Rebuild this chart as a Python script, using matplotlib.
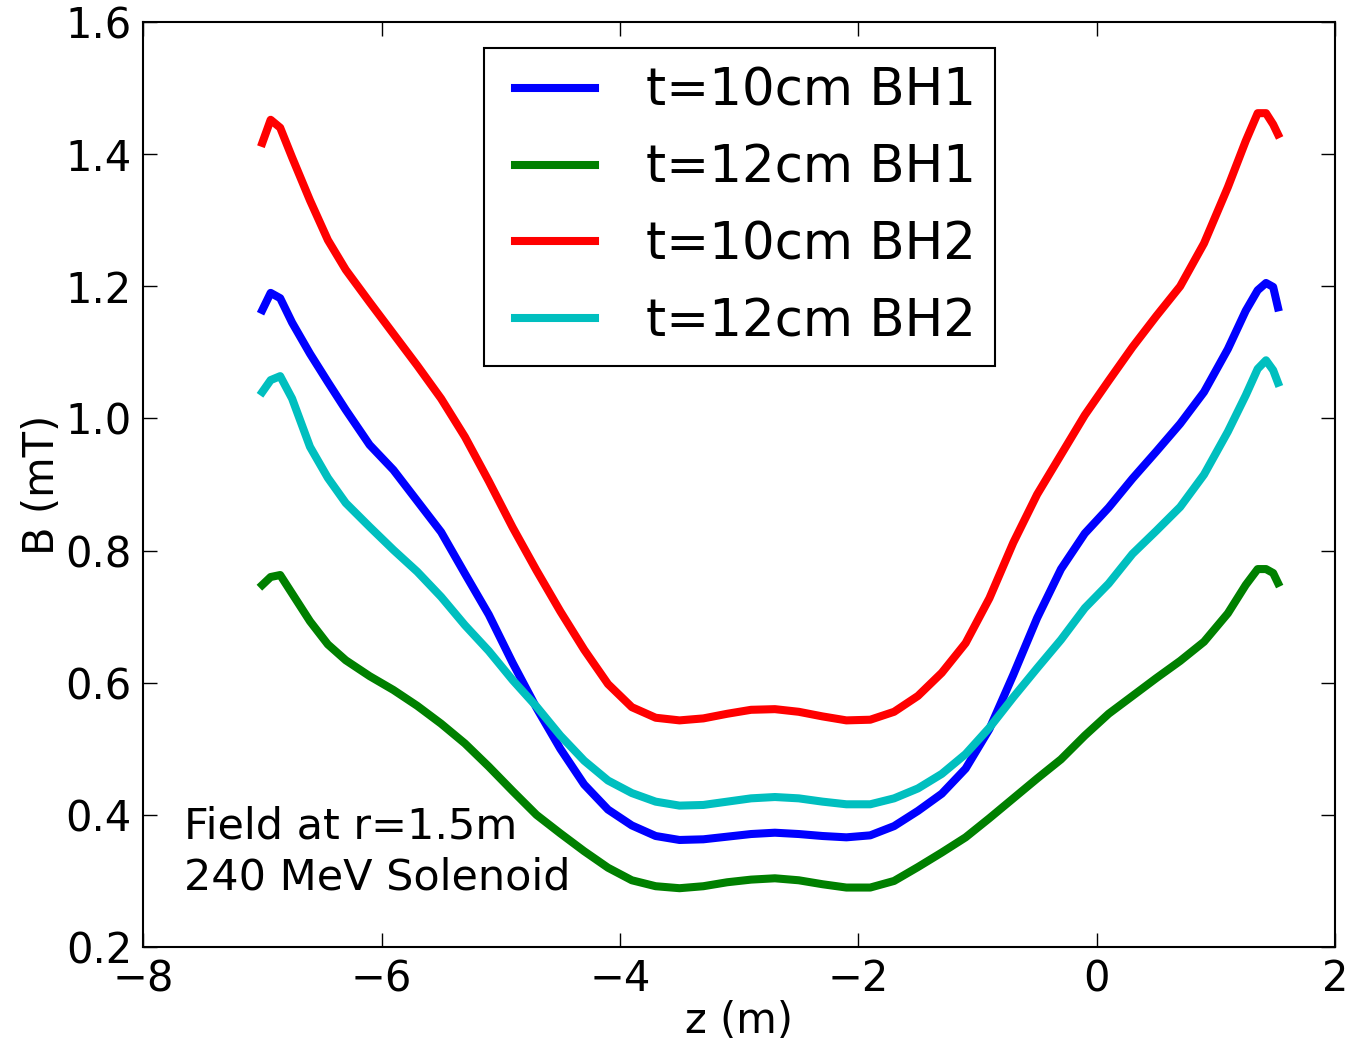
import matplotlib
matplotlib.use("Agg")
import matplotlib.pyplot as plt
from matplotlib.lines import Line2D
from matplotlib.legend_handler import HandlerLine2D

z = [-7.0, -6.93, -6.85, -6.75, -6.6, -6.45, -6.3, -6.1, -5.9, -5.7, -5.5, -5.3,
     -5.1, -4.9, -4.7, -4.5, -4.3, -4.1, -3.9, -3.7, -3.5, -3.3, -3.1, -2.9,
     -2.7, -2.5, -2.3, -2.1, -1.9, -1.7, -1.5, -1.3, -1.1, -0.9, -0.7, -0.5,
     -0.3, -0.1, 0.1, 0.3, 0.5, 0.7, 0.9, 1.1, 1.25, 1.35, 1.42, 1.48, 1.52]

b_t10_bh1 = [1.164, 1.190, 1.182, 1.145, 1.098, 1.055, 1.013, 0.960, 0.922, 0.875,
             0.828, 0.765, 0.703, 0.630, 0.562, 0.500, 0.446, 0.408, 0.384, 0.368,
             0.362, 0.363, 0.367, 0.371, 0.373, 0.371, 0.368, 0.366, 0.369, 0.383,
             0.406, 0.432, 0.470, 0.530, 0.612, 0.698, 0.772, 0.826, 0.865, 0.909,
             0.950, 0.992, 1.040, 1.105, 1.163, 1.194, 1.205, 1.199, 1.168]

b_t12_bh1 = [0.748, 0.760, 0.763, 0.735, 0.693, 0.658, 0.634, 0.610, 0.589, 0.565,
             0.538, 0.508, 0.473, 0.436, 0.400, 0.372, 0.345, 0.320, 0.301, 0.292,
             0.289, 0.292, 0.298, 0.302, 0.304, 0.301, 0.295, 0.290, 0.290, 0.300,
             0.321, 0.343, 0.366, 0.395, 0.425, 0.455, 0.484, 0.520, 0.553, 0.580,
             0.607, 0.633, 0.662, 0.705, 0.748, 0.772, 0.772, 0.766, 0.751]

b_t10_bh2 = [1.417, 1.452, 1.440, 1.395, 1.330, 1.270, 1.225, 1.176, 1.128, 1.080,
             1.030, 0.972, 0.905, 0.835, 0.770, 0.708, 0.650, 0.598, 0.563, 0.547,
             0.543, 0.546, 0.553, 0.559, 0.560, 0.556, 0.549, 0.543, 0.544, 0.556,
             0.580, 0.615, 0.660, 0.728, 0.812, 0.885, 0.945, 1.005, 1.057, 1.108,
             1.155, 1.200, 1.265, 1.350, 1.420, 1.462, 1.462, 1.445, 1.430]

b_t12_bh2 = [1.040, 1.058, 1.064, 1.030, 0.957, 0.910, 0.872, 0.836, 0.801, 0.768,
             0.730, 0.687, 0.648, 0.604, 0.564, 0.520, 0.482, 0.452, 0.433, 0.420,
             0.414, 0.415, 0.420, 0.425, 0.427, 0.425, 0.420, 0.416, 0.416, 0.425,
             0.440, 0.462, 0.492, 0.532, 0.578, 0.622, 0.665, 0.713, 0.750, 0.795,
             0.830, 0.866, 0.915, 0.980, 1.035, 1.075, 1.088, 1.073, 1.054]

labels = ["t=10cm BH1", "t=12cm BH1", "t=10cm BH2", "t=12cm BH2"]
colors = ["#0000ff", "#008000", "#ff0000", "#00bfbf"]
series = [b_t10_bh1, b_t12_bh1, b_t10_bh2, b_t12_bh2]

xticks = [-8, -6, -4, -2, 0, 2]
xticklabels = ["\u22128", "\u22126", "\u22124", "\u22122", "0", "2"]
yticks = [0.2, 0.4, 0.6, 0.8, 1.0, 1.2, 1.4, 1.6]
yticklabels = ["0.2", "0.4", "0.6", "0.8", "1.0", "1.2", "1.4", "1.6"]

plt.rcParams['font.family'] = ['DejaVu Sans']
fig = plt.figure(figsize=(13.5, 10.47), dpi=100)
ax = fig.add_axes([0.106, 0.0955, 0.883, 0.8835])

for vals, lab, col in zip(series, labels, colors):
    ax.plot(z, vals, color=col, lw=5.8, label=lab)

ax.set_xlim(-8, 2)
ax.set_ylim(0.2, 1.6)
ax.set_xticks(xticks)
ax.set_yticks(yticks)
ax.set_xticklabels(xticklabels)
ax.set_yticklabels(yticklabels)
ax.tick_params(direction='in', length=10, width=1, top=True, right=True,
               labelsize=30, pad=8)
for s in ax.spines.values():
    s.set_linewidth(1.5)

ax.set_xlabel("z (m)", fontsize=30, labelpad=0)
ax.set_ylabel("B (mT)", fontsize=30, labelpad=2)

leg = ax.legend(loc='upper center', bbox_to_anchor=(0.5, 0.972), fontsize=37,
                borderaxespad=0, labelspacing=0.52, handlelength=1.79,
                handletextpad=0.99, fancybox=False, framealpha=1,
                edgecolor='black', borderpad=0.37,
                handler_map={Line2D: HandlerLine2D(xpad=0.23)})
leg.get_frame().set_linewidth(1.5)
for l in leg.get_lines():
    l.set_linewidth(5.8)

ax.text(0.034, 0.052, "Field at r=1.5m\n240 MeV Solenoid", transform=ax.transAxes,
        fontsize=31, va='bottom', ha='left', linespacing=1.3)

fig.savefig("out.png", dpi=100)
